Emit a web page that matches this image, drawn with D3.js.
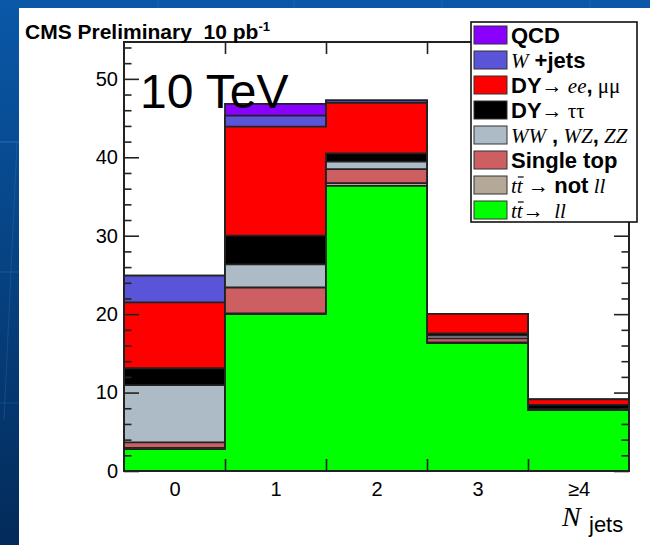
<!DOCTYPE html>
<html>
<head>
<meta charset="utf-8">
<script src="https://cdn.jsdelivr.net/npm/d3@7"></script>
<style>
  html, body { margin: 0; padding: 0; overflow: hidden; background: #fff; }
  svg { display: block; }
  text { white-space: pre; }
</style>
</head>
<body>
<svg id="chart" width="650" height="545"></svg>
<script>
// Jet-multiplicity bins
const nJetBins = ["0", "1", "2", "3", "≥4"];
const yMajorTicks = [0, 10, 20, 30, 40, 50];

// Expected events per bin, one array per process (stack order bottom → top)
const ttToLL      = [2.8, 20.0, 36.35, 16.3, 7.75];
const ttToNotLL   = [0.15, 0.1, 0.35, 0.1, 0.05];
const singleTop   = [0.7, 3.3, 1.8, 0.5, 0.05];
const diboson     = [7.3, 2.95, 0.95, 0.35, 0.02];
const dyToTauTau  = [2.15, 3.65, 1.05, 0.3, 0.55];
const dyToEEMuMu  = [8.4, 13.9, 6.45, 2.48, 0.72];
const wPlusJets   = [3.4, 1.4, 0.3, 0, 0];
const qcd         = [0, 1.5, 0, 0, 0];

const processKeys = ["ttToLL", "ttToNotLL", "singleTop", "diboson", "dyToTauTau", "dyToEEMuMu", "wPlusJets", "qcd"];
const processValues = [ttToLL, ttToNotLL, singleTop, diboson, dyToTauTau, dyToEEMuMu, wPlusJets, qcd];
const processColors = ["#00ff00", "#b4a898", "#cd5f63", "#acbbc5", "#000000", "#ff0000", "#5a54d8", "#8a00ff"];

// Legend labels (top entry first); segment styles: b = bold sans, i = italic serif,
// s = upright serif, ib = italic serif with an overbar
const legendLabels = [
  [["QCD", "b"]],
  [["W", "i"], [" +jets", "b"]],
  [["DY", "b"], ["→ ", "s"], ["ee", "i"], [",", "b"], [" μμ", "s"]],
  [["DY", "b"], ["→ ττ", "s"]],
  [["WW", "i"], [" ,", "b"], [" WZ", "i"], [",", "b"], [" ZZ", "i"]],
  [["Single top", "b"]],
  [["t", "i"], ["t", "ib"], [" → ", "s"], ["not", "b"], [" ll", "i"]],
  [["t", "i"], ["t", "ib"], ["→  ", "s"], ["ll", "i"]]
];

const svg = d3.select("#chart");
const W = 650, H = 545;
const SANS = "'Liberation Sans', Arial, Helvetica, sans-serif";
const SERIF = "'Liberation Serif', 'Times New Roman', serif";
const INK = "#222";

// Slide background
const defs = svg.append("defs");
const grad = defs.append("linearGradient").attr("id", "slideBlue")
  .attr("x1", 0).attr("y1", 0).attr("x2", 0).attr("y2", 1);
grad.append("stop").attr("offset", "0%").attr("stop-color", "#0a58a8");
grad.append("stop").attr("offset", "100%").attr("stop-color", "#032b5a");
svg.append("rect").attr("width", W).attr("height", H).attr("fill", "url(#slideBlue)");
const deco = svg.append("g").attr("stroke", "#2f7fd0").attr("stroke-width", 1).attr("fill", "none");
deco.append("line").attr("x1", 0).attr("x2", 19).attr("y1", 142).attr("y2", 142).attr("stroke-opacity", 0.7);
deco.append("line").attr("x1", 0).attr("x2", 19).attr("y1", 272).attr("y2", 272).attr("stroke-opacity", 0.35);
deco.append("line").attr("x1", 0).attr("x2", 19).attr("y1", 403).attr("y2", 403).attr("stroke-opacity", 0.3);
deco.append("line").attr("x1", 17).attr("x2", 4).attr("y1", 142).attr("y2", 420).attr("stroke-opacity", 0.3);
[158, 294, 442, 590].forEach(xx => deco.append("line")
  .attr("x1", xx).attr("x2", xx).attr("y1", 0).attr("y2", 8).attr("stroke-opacity", 0.4));
svg.append("rect").attr("x", 19).attr("y", 8).attr("width", W - 19).attr("height", H - 8).attr("fill", "#fff");

// Plot frame and scales
const plot = { left: 124, right: 629, top: 42, bottom: 471 };
const x = d3.scaleLinear().domain([-0.5, 4.5]).range([plot.left, plot.right]);
const y = d3.scaleLinear().domain([0, 54.7]).range([plot.bottom, plot.top]);

// Stacked histogram: each cumulative level is filled from zero, drawn top level first
const rows = nJetBins.map((b, i) => {
  const r = { bin: i };
  processKeys.forEach((k, j) => { r[k] = processValues[j][i]; });
  return r;
});
const layers = d3.stack().keys(processKeys)(rows);
const edges = d3.range(nJetBins.length + 1);

const histG = svg.append("g");
for (let j = layers.length - 1; j >= 0; j--) {
  const top = layers[j].map(d => d[1]);
  const val = e => top[Math.min(e, top.length - 1)];
  const area = d3.area().curve(d3.curveStepAfter)
    .x(e => x(e - 0.5)).y0(y(0)).y1(e => y(val(e)));
  const line = d3.line().curve(d3.curveStepAfter)
    .x(e => x(e - 0.5)).y(e => y(val(e)));
  histG.append("path").attr("d", area(edges)).attr("fill", processColors[j]);
  histG.append("path").attr("d", line(edges)).attr("fill", "none")
    .attr("stroke", INK).attr("stroke-width", 1.8);
}

// Axes (ticks point into the frame)
function styleAxis(g) {
  g.select(".domain").remove();
  g.selectAll(".tick line").attr("stroke", INK).attr("stroke-width", 1.6);
  g.selectAll("text").attr("font-family", SANS).attr("font-size", 20).attr("fill", "#000");
  g.attr("font-family", null).attr("font-size", null);
}
const minorY = d3.range(0, 55, 2).filter(v => v % 10 !== 0);
const binEdges = [0.5, 1.5, 2.5, 3.5];

svg.append("g").attr("transform", `translate(${plot.left},0)`)
  .call(d3.axisLeft(y).tickValues(yMajorTicks).tickSizeInner(-15).tickSizeOuter(0).tickPadding(6))
  .call(styleAxis);
svg.append("g").attr("transform", `translate(${plot.left},0)`)
  .call(d3.axisLeft(y).tickValues(minorY).tickSizeInner(-7.5).tickSizeOuter(0).tickFormat(""))
  .call(styleAxis);
svg.append("g").attr("transform", `translate(${plot.right},0)`)
  .call(d3.axisRight(y).tickValues(yMajorTicks).tickSizeInner(-15).tickSizeOuter(0).tickFormat(""))
  .call(styleAxis);
svg.append("g").attr("transform", `translate(${plot.right},0)`)
  .call(d3.axisRight(y).tickValues(minorY).tickSizeInner(-7.5).tickSizeOuter(0).tickFormat(""))
  .call(styleAxis);
svg.append("g").attr("transform", `translate(0,${plot.bottom})`)
  .call(d3.axisBottom(x).tickValues(binEdges).tickSizeInner(-12).tickSizeOuter(0).tickFormat(""))
  .call(styleAxis);
svg.append("g").attr("transform", `translate(0,${plot.top})`)
  .call(d3.axisTop(x).tickValues(binEdges).tickSizeInner(-12).tickSizeOuter(0).tickFormat(""))
  .call(styleAxis);
// bin labels at bin centres
svg.append("g").attr("transform", `translate(0,${plot.bottom})`)
  .call(d3.axisBottom(x).tickValues(d3.range(nJetBins.length)).tickSize(0).tickPadding(11)
    .tickFormat(i => nJetBins[i]))
  .call(styleAxis)
  .call(g => g.selectAll(".tick line").remove());

svg.append("rect")
  .attr("x", plot.left).attr("y", plot.top)
  .attr("width", plot.right - plot.left).attr("height", plot.bottom - plot.top)
  .attr("fill", "none").attr("stroke", INK).attr("stroke-width", 2);

// Axis title
const xt = svg.append("text");
xt.append("tspan").attr("x", 562).attr("y", 526).attr("font-family", SERIF).attr("font-style", "italic")
  .attr("font-size", 28).text("N");
xt.append("tspan").attr("x", 589).attr("y", 532).attr("font-family", SANS).attr("font-size", 22).text("jets");

// Header texts
const cms = svg.append("text").attr("x", 25).attr("y", 39)
  .attr("font-family", SANS).attr("font-weight", "bold").attr("font-size", 21);
cms.append("tspan").text("CMS Preliminary  10 pb");
cms.append("tspan").attr("font-size", 13).attr("dy", -8).text("-1");

svg.append("text").attr("x", 140).attr("y", 108)
  .attr("font-family", SANS).attr("font-size", 48).text("10 TeV");

// Legend
const leg = { x: 471, y: 22, w: 166, h: 200, row: 25 };
const legG = svg.append("g");
legG.append("rect").attr("x", leg.x).attr("y", leg.y).attr("width", leg.w).attr("height", leg.h)
  .attr("fill", "#fff").attr("stroke", "#111").attr("stroke-width", 1.6);
const legendColors = processColors.slice().reverse();
legendLabels.forEach((segs, i) => {
  const cy = 35 + i * leg.row;
  legG.append("rect").attr("x", 474).attr("y", cy - 9).attr("width", 33).attr("height", 18)
    .attr("fill", legendColors[i]).attr("stroke", "#333").attr("stroke-width", 1);
  const t = legG.append("text").attr("x", 511).attr("y", cy + 7.5).attr("font-size", 22);
  let idx = 0;
  const bars = [];
  segs.forEach(([str, st]) => {
    const ts = t.append("tspan").text(str);
    if (st === "b") ts.attr("font-family", SANS).attr("font-weight", "bold");
    else if (st === "s") ts.attr("font-family", SERIF).attr("font-size", 21);
    else ts.attr("font-family", SERIF).attr("font-style", "italic").attr("font-size", 21);
    if (st === "ib") bars.push(idx);
    idx += str.length;
  });
  bars.forEach(ci => {
    const ext = t.node().getExtentOfChar(ci);
    legG.append("line")
      .attr("x1", ext.x + 1).attr("x2", ext.x + ext.width + 1)
      .attr("y1", cy - 8).attr("y2", cy - 8)
      .attr("stroke", "#000").attr("stroke-width", 1.2);
  });
});
</script>
</body>
</html>
